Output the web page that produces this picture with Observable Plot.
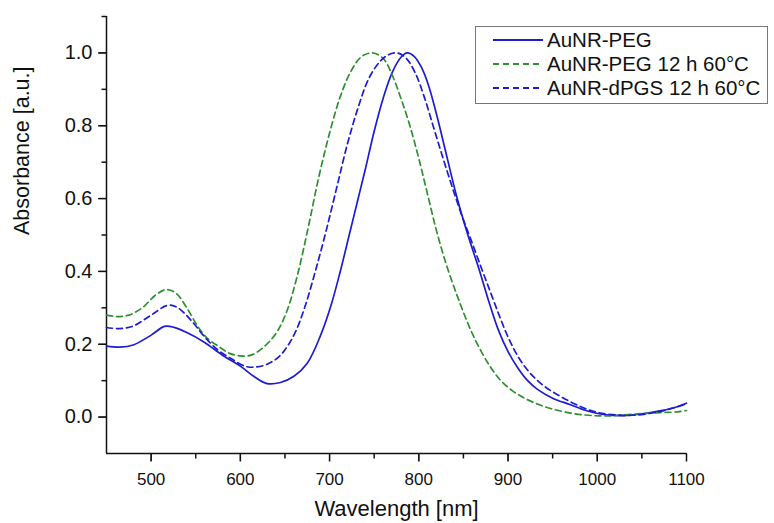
<!DOCTYPE html>
<html>
<head>
<meta charset="utf-8">
<script src="https://cdn.jsdelivr.net/npm/d3@7"></script>
<script src="https://cdn.jsdelivr.net/npm/@observablehq/plot@0.6"></script>
<style>
  html, body { margin: 0; padding: 0; background: white; }
  #wrap { position: relative; width: 774px; height: 523px; font-family: "Liberation Sans", Arial, sans-serif; }
  #legend { position: absolute; left: 475px; top: 26px; width: 293px; height: 78px; border: 1px solid #777; background: white; box-sizing: border-box; }
  .row { position: absolute; left: 0; height: 26px; display: flex; align-items: center; font-size: 20.5px; color: #111; white-space: nowrap; }
  .row svg { margin-left: 17px; margin-right: 4px; }
</style>
</head>
<body>
<div id="wrap"><div id="legend"></div></div>
<script>
// ---- data ----
const seriesNames = ["AuNR-PEG", "AuNR-PEG 12 h 60°C", "AuNR-dPGS 12 h 60°C"];
const seriesColors = ["#1c1cd2", "#2f8f2f", "#1c1cd2"];
const seriesDash = [null, "6,4", "6,4"];

const wlPEG = [450,465,480,500,515,525,540,560,580,600,615,630,645,660,675,690,702,712,722,731,740,750,760,770,780,787,795,803,811,820,830,842,855,867,878,889,900,911,922,933,950,970,990,1010,1030,1050,1070,1085,1100];
const absPEG = [0.195,0.192,0.198,0.225,0.249,0.247,0.232,0.205,0.170,0.140,0.112,0.092,0.095,0.112,0.148,0.225,0.31,0.40,0.50,0.59,0.68,0.785,0.875,0.945,0.988,1.0,0.99,0.96,0.91,0.83,0.73,0.61,0.50,0.41,0.321,0.24,0.18,0.135,0.10,0.076,0.052,0.034,0.016,0.006,0.004,0.009,0.017,0.025,0.038];

const wlPEG60 = [450,462,475,490,505,517,528,540,552,563,575,588,600,612,625,640,652,664,676,688,700,712,724,736,748,760,770,780,790,800,810,820,832,845,858,870,881,892,905,920,935,950,970,990,1010,1040,1070,1087,1100];
const absPEG60 = [0.280,0.276,0.280,0.300,0.335,0.350,0.340,0.300,0.250,0.216,0.195,0.175,0.168,0.170,0.190,0.230,0.29,0.39,0.52,0.66,0.78,0.88,0.95,0.99,1.0,0.985,0.94,0.875,0.80,0.71,0.61,0.51,0.41,0.32,0.24,0.18,0.135,0.10,0.072,0.05,0.034,0.022,0.011,0.005,0.003,0.008,0.012,0.014,0.018];

const wlPGS60 = [450,465,480,500,519,530,545,560,575,590,605,615,630,645,660,672,684,696,708,720,732,744,756,766,776,786,796,806,816,826,837,848,858,870,880,890,900,912,925,940,955,970,985,1000,1020,1040,1068,1085,1100];
const absPGS60 = [0.246,0.243,0.250,0.280,0.307,0.300,0.265,0.220,0.184,0.160,0.140,0.137,0.145,0.170,0.225,0.30,0.40,0.51,0.63,0.75,0.85,0.93,0.975,0.995,1.0,0.985,0.945,0.88,0.80,0.72,0.635,0.555,0.49,0.41,0.345,0.28,0.22,0.163,0.12,0.086,0.062,0.042,0.025,0.013,0.006,0.005,0.014,0.025,0.036];

const xDomain = [450, 1100];
const yDomain = [-0.1, 1.1];
const xTicks = [500, 600, 700, 800, 900, 1000, 1100];
const xMinor = [550, 650, 750, 850, 950, 1050];
const yTicks = [0.0, 0.2, 0.4, 0.6, 0.8, 1.0];
const yMinor = [0.1, 0.3, 0.5, 0.7, 0.9, 1.1];

const toRows = (wl, ab) => wl.map((w, i) => ({w, a: ab[i]}));
const series = [toRows(wlPEG, absPEG), toRows(wlPEG60, absPEG60), toRows(wlPGS60, absPGS60)];

const lineMarks = series.map((d, i) => Plot.line(d, {
  x: "w", y: "a", curve: "catmull-rom",
  stroke: seriesColors[i], strokeWidth: 1.7,
  strokeDasharray: seriesDash[i] || undefined
}));

// tick glyphs (outward) drawn as custom dot symbols
const tickLeft = (len) => ({draw(ctx) { ctx.moveTo(0, 0); ctx.lineTo(-len, 0); }});
const tickDown = (len) => ({draw(ctx) { ctx.moveTo(0, 0); ctx.lineTo(0, len); }});
const tickStyle = {stroke: "#111", strokeWidth: 1.5, fill: "none"};

const chart = Plot.plot({
  width: 774, height: 523,
  marginLeft: 106, marginRight: 88, marginTop: 16, marginBottom: 70,
  style: {fontFamily: "Liberation Sans, Arial, sans-serif", color: "#111", background: "white"},
  x: {domain: xDomain},
  y: {domain: yDomain},
  marks: [
    Plot.axisY(yTicks, {tickSize: 8, tickPadding: 6, tickFormat: d3.format(".1f"), fontSize: 20, label: null, stroke: "#111"}),
    Plot.axisX(xTicks, {tickSize: 8, tickPadding: 11, tickFormat: d3.format("d"), fontSize: 17, label: null, stroke: "#111"}),
    Plot.dot(yTicks, {x: () => xDomain[0], y: d => d, symbol: tickLeft(8), ...tickStyle}),
    Plot.dot(yMinor, {x: () => xDomain[0], y: d => d, symbol: tickLeft(5), ...tickStyle}),
    Plot.dot(xTicks, {x: d => d, y: () => yDomain[0], symbol: tickDown(8), ...tickStyle}),
    Plot.dot(xMinor, {x: d => d, y: () => yDomain[0], symbol: tickDown(5), ...tickStyle}),
    Plot.ruleX([xDomain[0]], {stroke: "#111", strokeWidth: 1.5}),
    Plot.ruleY([yDomain[0]], {stroke: "#111", strokeWidth: 1.5}),
    ...lineMarks,
    Plot.text(["Absorbance [a.u.]"], {frameAnchor: "left", rotate: -90, dx: -84, fontSize: 21.5, fill: "#111"}),
    Plot.text(["Wavelength [nm]"], {frameAnchor: "bottom", dy: 62, fontSize: 22, fill: "#111"})
  ]
});
document.getElementById("wrap").prepend(chart);

// legend
const legend = document.getElementById("legend");
const rowTops = [0, 24, 48];
seriesNames.forEach((name, i) => {
  const row = document.createElement("div");
  row.className = "row";
  row.style.top = rowTops[i] + "px";
  const dash = seriesDash[i] ? `stroke-dasharray="${seriesDash[i]}"` : "";
  row.innerHTML = `<svg width="50" height="10"><line x1="0" y1="5" x2="50" y2="5" stroke="${seriesColors[i]}" stroke-width="1.8" ${dash}/></svg><span>${name}</span>`;
  legend.appendChild(row);
});
</script>
</body>
</html>
